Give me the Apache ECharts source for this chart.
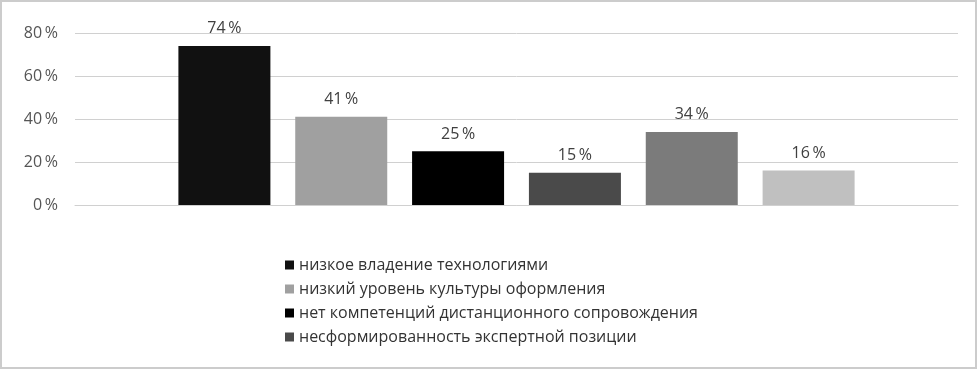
<!DOCTYPE html>
<html><head><meta charset="utf-8">
<script src="https://cdn.jsdelivr.net/npm/echarts@6/dist/echarts.min.js"></script>
<style>html,body{margin:0;padding:0;background:#fff}#c{width:980px;height:372px}</style>
</head><body><div id="c"></div>
<script>
const category = [''];
const seriesNames = [
  'низкое владение технологиями',
  'низкий уровень культуры оформления',
  'нет компетенций дистанционного сопровождения',
  'несформированность экспертной позиции',
  '',
  ''
];
const legendNames = seriesNames.slice(0, 4);
const values = [74, 41, 25, 15, 34, 16];
const colors = ['#111111', '#a0a0a0', '#000000', '#4a4a4a', '#7b7b7b', '#c0c0c0'];
const yTicks = [0, 20, 40, 60, 80];

const font = '"Open Sans", "Noto Sans", sans-serif';
const chart = echarts.init(document.getElementById('c'), null, {renderer: 'canvas'});
chart.setOption({
  animation: false,
  textStyle: {fontFamily: font},
  graphic: [{type: 'rect', shape: {x: 1, y: 1, width: 975, height: 367}, style: {fill: 'none', stroke: '#cccccc', lineWidth: 2}, silent: true}],
  grid: {left: 75, right: 22, top: 33, bottom: 167},
  legend: {
    data: legendNames,
    orient: 'vertical',
    left: 280,
    top: 252,
    itemWidth: 9,
    itemHeight: 9,
    itemGap: 8,
    icon: 'rect',
    textStyle: {fontFamily: font, fontSize: 16, color: '#333'}
  },
  xAxis: {
    type: 'category', data: category,
    axisLine: {lineStyle: {color: '#d0d0d0'}}, axisTick: {show: false}, axisLabel: {show: false}
  },
  yAxis: {
    type: 'value', min: yTicks[0], max: yTicks[yTicks.length - 1], interval: 20,
    axisLine: {show: false}, axisTick: {show: false},
    axisLabel: {formatter: '{value}\u2009%', fontFamily: font, fontSize: 16, color: '#555', margin: 17},
    splitLine: {lineStyle: {color: '#d0d0d0'}}
  },
  series: values.map((v, i) => ({
    name: seriesNames[i],
    type: 'bar',
    data: [v],
    barWidth: 92,
    barGap: '27%',
    itemStyle: {color: colors[i]},
    label: {show: true, position: 'top', distance: 9, formatter: '{c}\u2009%', fontFamily: font, fontSize: 16, color: '#404040'}
  }))
});
</script></body></html>
